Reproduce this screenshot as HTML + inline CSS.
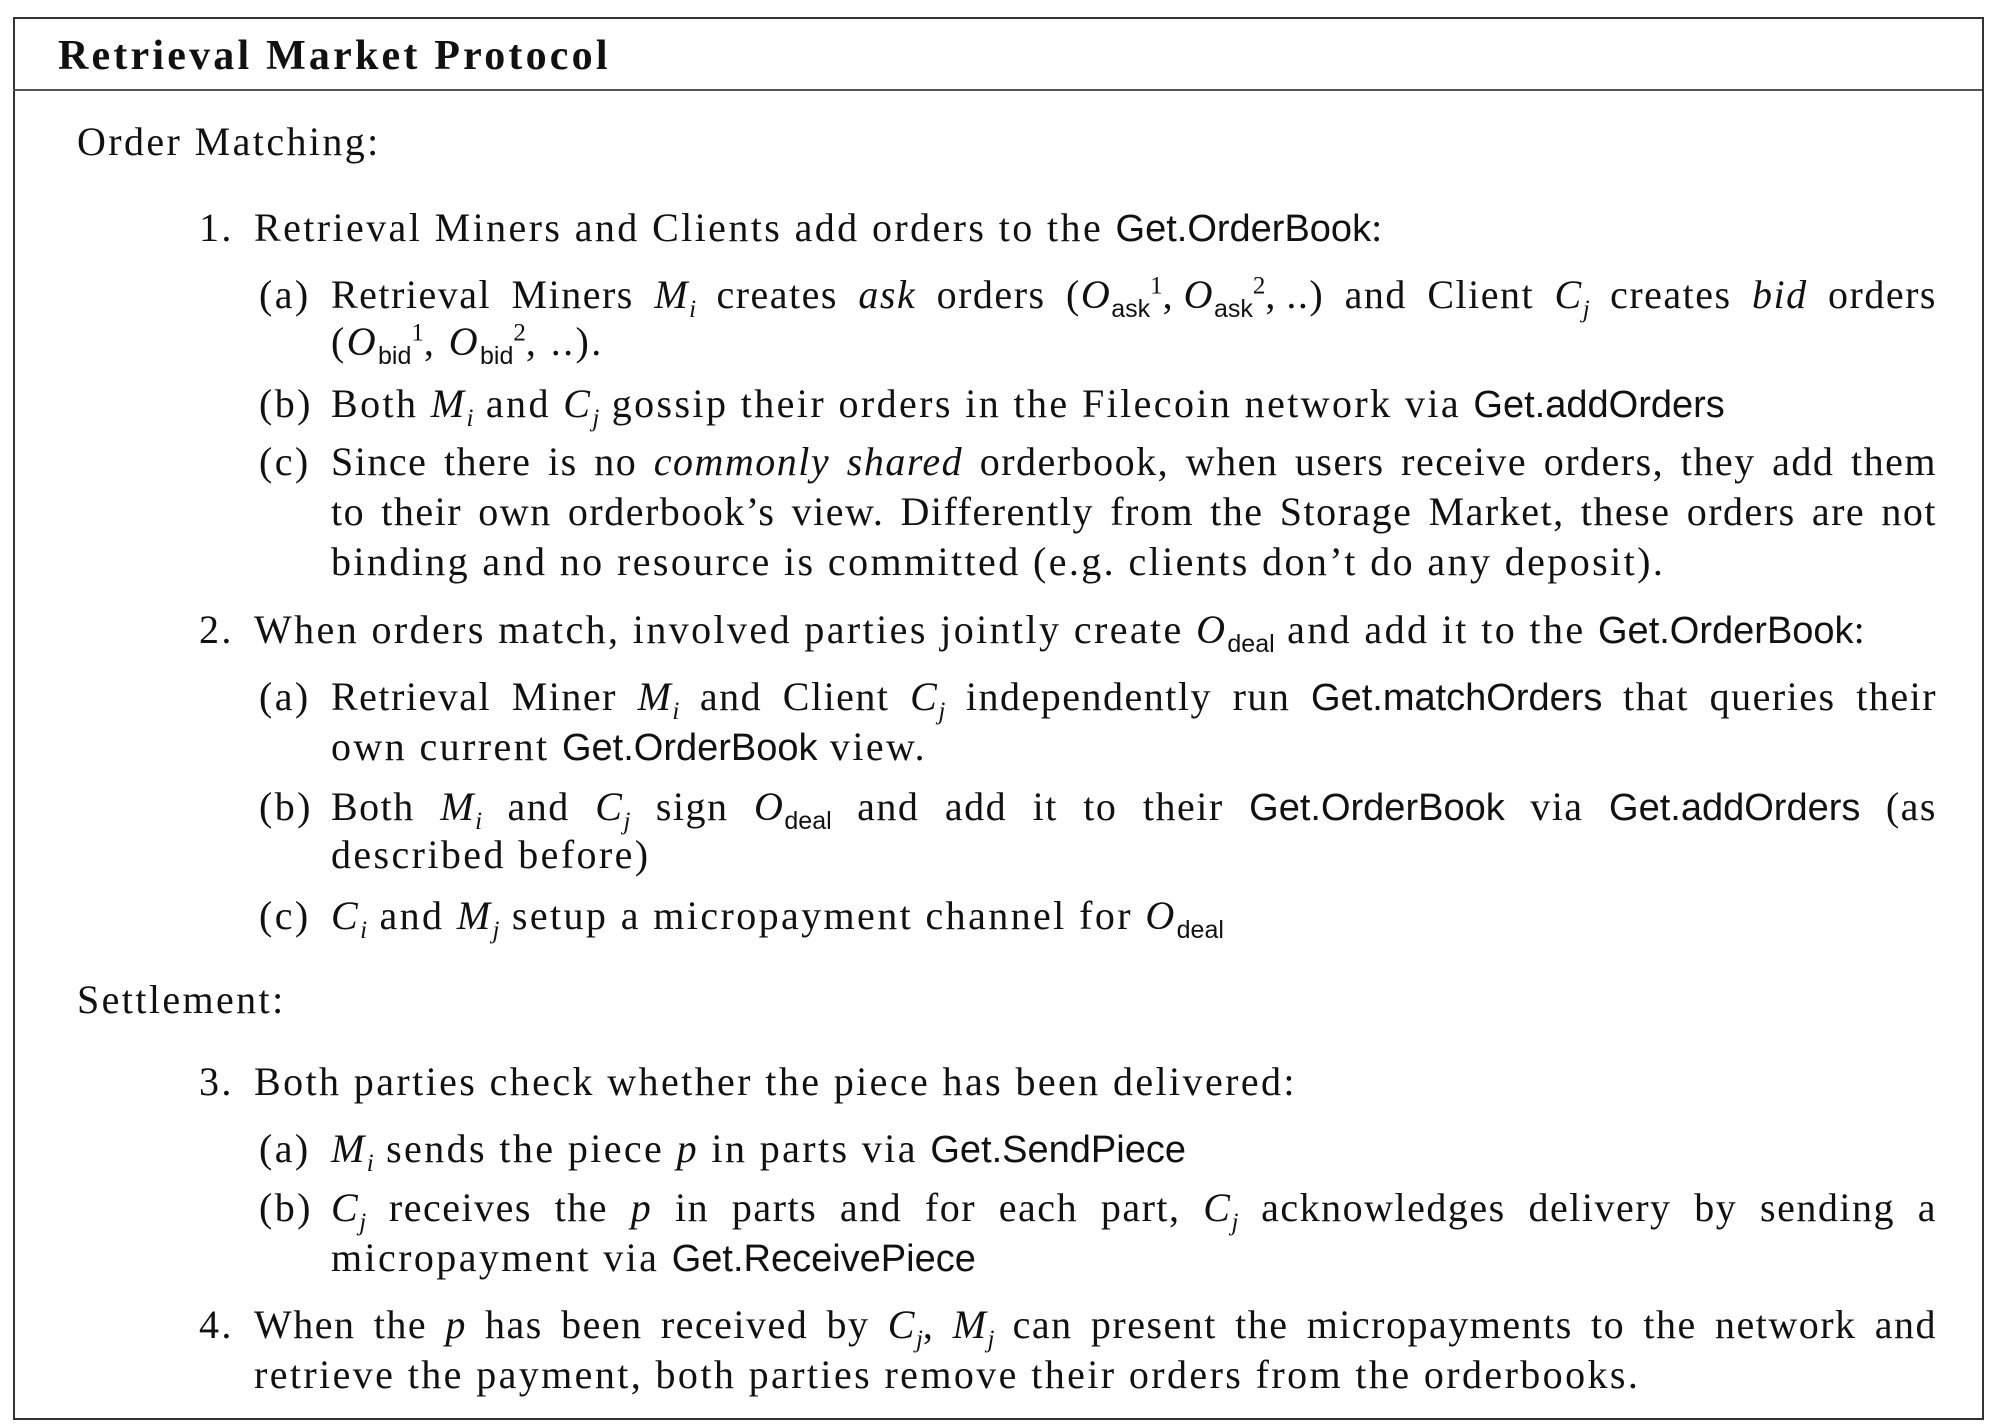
<!DOCTYPE html>
<html><head><meta charset="utf-8"><style>
html,body{margin:0;padding:0;background:#fff;}
body{width:1995px;height:1424px;position:relative;overflow:hidden;font-family:"Liberation Serif",serif;color:#111;}
.box{position:absolute;left:13px;top:17px;width:1967px;height:1399px;border:2px solid #333;}
.hr{position:absolute;left:13px;top:89px;width:1969px;height:2px;background:#555;}
.l{position:absolute;font-size:40px;line-height:40px;white-space:nowrap;letter-spacing:2.4px;}
.j{text-align:justify;text-align-last:justify;white-space:normal;letter-spacing:1.5px;height:40px;}
.s{font-family:"Liberation Sans",sans-serif;font-size:38px;letter-spacing:0;}
.m{font-style:italic;}
sub,sup{font-size:25px;line-height:0;letter-spacing:0;}
sub{font-family:"Liberation Sans",sans-serif;}
sub.i{font-family:"Liberation Serif",serif;font-style:italic;}
</style></head><body>
<div class="box"></div><div class="hr"></div>
<div class="l" style="left:58px;top:36px;font-weight:bold;font-size:42px;letter-spacing:3.2px;">Retrieval Market Protocol</div>
<div class="l" style="left:77px;top:122px;">Order Matching:</div>

<div class="l" style="left:199px;top:208px;">1.</div>
<div class="l" style="left:254px;top:208px;">Retrieval Miners and Clients add orders to the <span class="s">Get.OrderBook</span>:</div>
<div class="l" style="left:259px;top:275px;">(a)</div>
<div class="l j" style="left:331px;top:275px;width:1606px;">Retrieval Miners <span class="m">M<sub class="i">i</sub></span> creates <i>ask</i> orders (<span class="m">O</span><sub>ask</sub><sup>1</sup>,&#8201;<span class="m">O</span><sub>ask</sub><sup>2</sup>,&#8201;..) and Client <span class="m">C<sub class="i">j</sub></span> creates <i>bid</i> orders</div>
<div class="l" style="left:331px;top:322px;">(<span class="m">O</span><sub>bid</sub><sup>1</sup>, <span class="m">O</span><sub>bid</sub><sup>2</sup>, ..).</div>
<div class="l" style="left:259px;top:384px;">(b)</div>
<div class="l" style="left:331px;top:384px;">Both <span class="m">M<sub class="i">i</sub></span> and <span class="m">C<sub class="i">j</sub></span> gossip their orders in the Filecoin network via <span class="s">Get.addOrders</span></div>
<div class="l" style="left:259px;top:442px;">(c)</div>
<div class="l j" style="left:331px;top:442px;width:1606px;">Since there is no <i>commonly shared</i> orderbook, when users receive orders, they add them</div>
<div class="l j" style="left:331px;top:492px;width:1606px;">to their own orderbook’s view. Differently from the Storage Market, these orders are not</div>
<div class="l" style="left:331px;top:542px;">binding and no resource is committed (e.g. clients don’t do any deposit).</div>

<div class="l" style="left:199px;top:610px;">2.</div>
<div class="l" style="left:254px;top:610px;">When orders match, involved parties jointly create <span class="m">O</span><sub>deal</sub> and add it to the <span class="s">Get.OrderBook</span>:</div>
<div class="l" style="left:259px;top:677px;">(a)</div>
<div class="l j" style="left:331px;top:677px;width:1606px;">Retrieval Miner <span class="m">M<sub class="i">i</sub></span> and Client <span class="m">C<sub class="i">j</sub></span> independently run <span class="s">Get.matchOrders</span> that queries their</div>
<div class="l" style="left:331px;top:727px;">own current <span class="s">Get.OrderBook</span> view.</div>
<div class="l" style="left:259px;top:787px;">(b)</div>
<div class="l j" style="left:331px;top:787px;width:1606px;">Both <span class="m">M<sub class="i">i</sub></span> and <span class="m">C<sub class="i">j</sub></span> sign <span class="m">O</span><sub>deal</sub> and add it to their <span class="s">Get.OrderBook</span> via <span class="s">Get.addOrders</span> (as</div>
<div class="l" style="left:331px;top:835px;">described before)</div>
<div class="l" style="left:259px;top:896px;">(c)</div>
<div class="l" style="left:331px;top:896px;"><span class="m">C<sub class="i">i</sub></span> and <span class="m">M<sub class="i">j</sub></span> setup a micropayment channel for <span class="m">O</span><sub>deal</sub></div>

<div class="l" style="left:77px;top:980px;">Settlement:</div>
<div class="l" style="left:199px;top:1062px;">3.</div>
<div class="l" style="left:254px;top:1062px;">Both parties check whether the piece has been delivered:</div>
<div class="l" style="left:259px;top:1129px;">(a)</div>
<div class="l" style="left:331px;top:1129px;"><span class="m">M<sub class="i">i</sub></span> sends the piece <i>p</i> in parts via <span class="s">Get.SendPiece</span></div>
<div class="l" style="left:259px;top:1188px;">(b)</div>
<div class="l j" style="left:331px;top:1188px;width:1606px;"><span class="m">C<sub class="i">j</sub></span> receives the <i>p</i> in parts and for each part, <span class="m">C<sub class="i">j</sub></span> acknowledges delivery by sending a</div>
<div class="l" style="left:331px;top:1238px;">micropayment via <span class="s">Get.ReceivePiece</span></div>
<div class="l" style="left:199px;top:1305px;">4.</div>
<div class="l j" style="left:254px;top:1305px;width:1683px;">When the <i>p</i> has been received by <span class="m">C<sub class="i">j</sub></span>, <span class="m">M<sub class="i">j</sub></span> can present the micropayments to the network and</div>
<div class="l" style="left:254px;top:1355px;">retrieve the payment, both parties remove their orders from the orderbooks.</div>
</body></html>
